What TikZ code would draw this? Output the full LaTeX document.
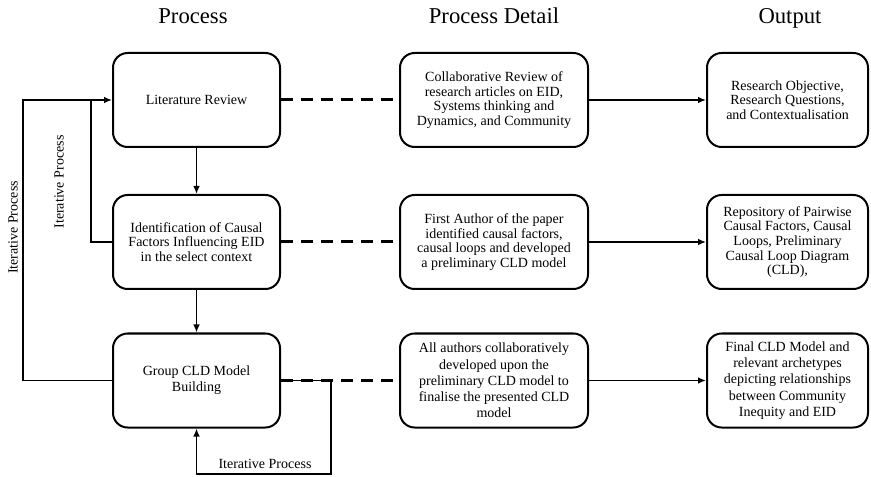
\documentclass[tikz,border=0pt]{standalone}
\usepackage{fontspec}
\setmainfont{Liberation Serif}
\usetikzlibrary{arrows.meta}
\begin{document}
\begin{tikzpicture}[x=0.75pt,y=-0.75pt,
  box/.style={draw, line width=1.5pt, rounded corners=11pt, align=center,
    font=\fontsize{10.5}{11}\selectfont, inner sep=2pt,
    minimum height=70.5pt},
  loose/.style={font=\fontsize{10.5}{12.2}\selectfont},
  procbox/.style={box, minimum width=125.25pt},
  detailbox/.style={box, minimum width=141pt},
  outbox/.style={box, minimum width=120.75pt},
  head/.style={font=\fontsize{17}{20}\selectfont, anchor=base},
  flow/.style={line width=1.1pt, -{Latex[length=6pt,width=5pt]}},
  loopline/.style={line width=1.1pt},
  link/.style={line width=2.25pt, dash pattern=on 9pt off 6pt},
  lbl/.style={font=\fontsize{10.5}{12.5}\selectfont}]
\useasboundingbox (0,0) rectangle (871,477);

% column headings
\node[head] (hP) at (193,23.5) {Process};
\node[head] (hD) at (494,23.5) {Process Detail};
\node[head] (hO) at (790,23.5) {Output};

% process column
\node[procbox] (p1) at (196.5,100) {Literature Review};
\node[procbox] (p2) at (196.5,242) {Identification of Causal\\Factors Influencing EID\\in the select context};
\node[procbox, loose] (p3) at (196.5,380.5) {Group CLD Model\\Building};

% detail column
\node[detailbox] (d1) at (494,100) {Collaborative Review of\\research articles on EID,\\Systems thinking and\\Dynamics, and Community};
\node[detailbox] (d2) at (494,242) {First Author of the paper\\identified causal factors,\\causal loops and developed\\a preliminary CLD model};
\node[detailbox, loose] (d3) at (494,380.5) {All authors collaboratively\\developed upon the\\preliminary CLD model to\\finalise the presented CLD\\model};

% output column
\node[outbox] (o1) at (787.5,100) {Research Objective,\\Research Questions,\\and Contextualisation};
\node[outbox] (o2) at (787.5,242) {Repository of Pairwise\\Causal Factors, Causal\\Loops, Preliminary\\Causal Loop Diagram\\(CLD),};
\node[outbox, loose] (o3) at (787.5,380.5) {Final CLD Model and\\relevant archetypes\\depicting relationships\\between Community\\Inequity and EID};

% feedback routing points
\coordinate (j1) at (91,100);
\coordinate (j2) at (23,100);
\coordinate (j3) at (331,474);

% dashed links between process and detail
\draw[link] (p1.east) -- (d1.west);
\draw[link] (p2.east) -- (d2.west);
\draw[link] (p3.east) -- (d3.west);

% detail to output
\draw[flow] (d1.east) -- (o1.west);
\draw[flow] (d2.east) -- (o2.west);
\draw[flow] (d3.east) -- (o3.west);

% main sequence
\draw[flow] (p1.south) -- (p2.north);
\draw[flow] (p2.south) -- (p3.north);

% iterative loops
\draw[loopline] (p3.west) -| (j2) -- (j1);
\draw[flow] (p2.west) -| (j1) -- (p1.west);
\draw[flow] (p3.east) -| (j3) -| (p3.south);

\node[lbl, rotate=90] (l1) at (59,182) {Iterative Process};
\node[lbl, rotate=90] (l2) at (13,227.5) {Iterative Process};
\node[lbl] (l3) at (265,464) {Iterative Process};
\end{tikzpicture}
\end{document}
